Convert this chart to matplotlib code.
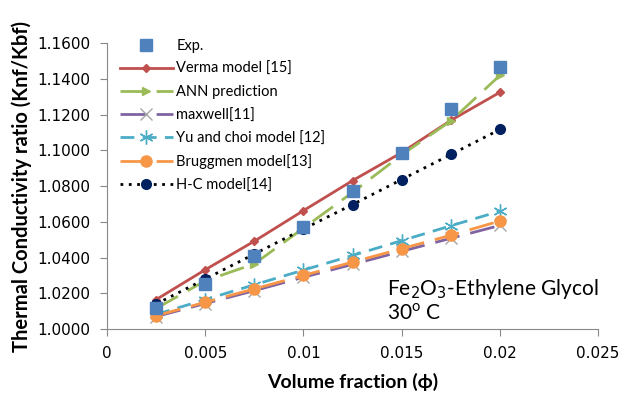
import numpy as np
import matplotlib.pyplot as plt

# volume fraction of Fe2O3 in ethylene glycol
phi = [0.0025, 0.005, 0.0075, 0.01, 0.0125, 0.015, 0.0175, 0.02]

exp_k    = [1.0120, 1.0250, 1.0408, 1.0573, 1.0775, 1.0983, 1.1230, 1.1465]
verma_k  = [1.0165, 1.0332, 1.0492, 1.0663, 1.0831, 1.0988, 1.1168, 1.1325]
ann_k    = [1.0115, 1.0270, 1.0365, 1.0565, 1.0765, 1.0975, 1.1165, 1.1420]
maxw_k   = [1.0070, 1.0143, 1.0215, 1.0290, 1.0362, 1.0435, 1.0508, 1.0580]
yu_k     = [1.0082, 1.0165, 1.0248, 1.0330, 1.0412, 1.0495, 1.0578, 1.0660]
brugg_k  = [1.0075, 1.0150, 1.0225, 1.0300, 1.0375, 1.0450, 1.0525, 1.0605]
hc_k     = [1.0140, 1.0280, 1.0420, 1.0560, 1.0697, 1.0837, 1.0977, 1.1117]

xticks = [0, 0.005, 0.01, 0.015, 0.02, 0.025]
xticklabels = ['0', '0.005', '0.01', '0.015', '0.02', '0.025']
yticks = [1.0, 1.02, 1.04, 1.06, 1.08, 1.10, 1.12, 1.14, 1.16]

fam = ['Lato', 'DejaVu Sans']

fig = plt.figure(figsize=(6.33, 3.96), dpi=100)
ax = fig.add_axes([0.169, 0.169, 0.776, 0.722])

ax.plot(phi, exp_k, ls='none', marker='s', ms=8, color='#4F81BD', label='Exp.', zorder=6)
ax.plot(phi, verma_k, color='#C0504D', lw=2, marker='D', ms=4, label='Verma model [15]')
ax.plot(phi, ann_k, color='#9BBB59', lw=2, dashes=(9, 4), marker='>', ms=6, label='ANN prediction')
ax.plot(phi, maxw_k, color='#8064A2', lw=2, dashes=(9, 4), marker='x', ms=9, mew=1,
        mec='#A6A6A6', label='maxwell[11]')
ax.plot(phi, yu_k, color='#4BACC6', lw=2, dashes=(5, 3), marker=(6, 2, 0), ms=10, mew=1,
        label='Yu and choi model [12]')
ax.plot(phi, brugg_k, color='#F79646', lw=2, dashes=(9, 4), marker='o', ms=8,
        label='Bruggmen model[13]')
ax.plot(phi, hc_k, color='black', lw=2, ls=(0, (1, 2)), marker='o', ms=7,
        mfc='#002060', mec='#002060', label='H-C model[14]')

ax.set_xlim(0, 0.025)
ax.set_ylim(1.0, 1.16)
ax.set_xticks(xticks)
ax.set_xticklabels(xticklabels)
ax.set_yticks(yticks)
ax.set_yticklabels(['%.4f' % v for v in yticks])
ax.tick_params(axis='both', color='#888888', length=5, labelsize=11)
ax.tick_params(axis='x', pad=7)
ax.tick_params(axis='y', pad=7)
for s in ['top', 'right']:
    ax.spines[s].set_visible(False)
for s in ['left', 'bottom']:
    ax.spines[s].set_color('#888888')

ax.set_xlabel('Volume fraction (ϕ)', fontsize=14, fontweight='bold', family=fam, labelpad=9)
ax.set_ylabel('Thermal Conductivity ratio (Knf/Kbf)', fontsize=14.5, fontweight='bold',
              family=fam, labelpad=4)

ax.text(0.01426, 1.0162, 'Fe$_2$O$_3$-Ethylene Glycol\n30$^{\\mathregular{o}}$ C', fontsize=15,
        family=fam, va='center', linespacing=1.15)

ax.legend(loc='upper left', bbox_to_anchor=(0.0, 1.06), frameon=False,
          handlelength=3.6, labelspacing=0.62, handletextpad=0.25,
          prop={'family': fam, 'size': 10.5})

fig.savefig('out.png', dpi=100)
